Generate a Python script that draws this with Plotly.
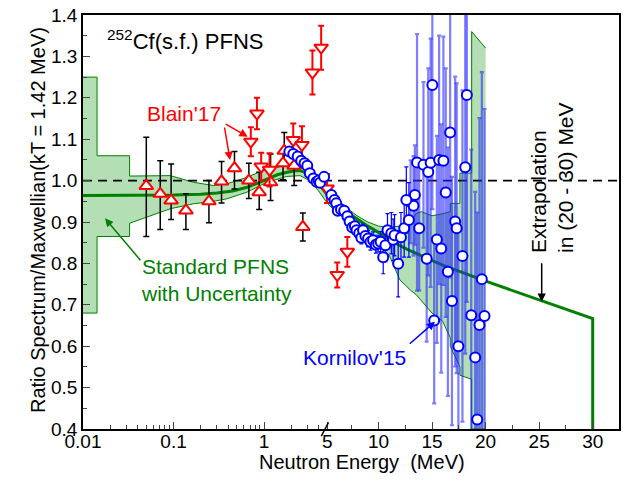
import numpy as np
import plotly.graph_objects as go

# x axis: log from 0.01 to 5 MeV, linear from 5 to 30 MeV
K = 0.1183
U5 = 0.672


def tx(e):
    e = np.asarray(e, dtype=float)
    return np.where(e <= 5, np.log10(e), U5 + (e - 5) * K)


# standard PFNS uncertainty band
band_e = [0.01, 0.0143, 0.0143, 0.0327, 0.0327, 0.05, 0.092, 0.166, 0.277, 0.388, 0.646, 1.07, 1.79,
          2.5, 3.0, 3.5, 4.0, 5.0, 6.0, 7.0, 8.0, 9.0, 10.0, 11.0, 12.0, 13.0, 13.5, 14.0, 15.0, 16.0,
          16.7, 16.7, 17.6, 17.6, 18.7, 18.7, 19.7, 20.0]
band_hi = [1.25, 1.25, 1.06, 1.06, 1.011, 1.011, 1.012, 0.996, 0.988, 0.992, 1.008, 1.028, 1.036,
           1.034, 1.03, 1.02, 1.008, 0.985, 0.955, 0.935, 0.915, 0.9, 0.89, 0.887, 0.89, 0.9, 0.92,
           0.925, 0.915, 0.92, 0.925, 0.945, 0.945, 1.018, 1.018, 1.36, 1.33, 1.32]
band_lo = [0.68, 0.68, 0.865, 0.865, 0.897, 0.912, 0.932, 0.944, 0.95, 0.956, 0.972, 0.996, 1.01,
           1.012, 1.003, 0.99, 0.975, 0.945, 0.925, 0.905, 0.885, 0.865, 0.845, 0.82, 0.76, 0.735,
           0.725, 0.71, 0.68, 0.66, 0.62, 0.6, 0.55, 0.53, 0.52, 0.4, 0.4, 0.4]

# standard PFNS (with extrapolation 20-30 MeV)
std_e = [0.01, 0.05, 0.1, 0.2, 0.3, 0.45, 0.65, 0.85, 1.07, 1.4, 1.79, 2.2, 2.5, 3.0, 3.5, 4.0, 5.0,
         6.0, 7.0, 8.0, 9.0, 10.0, 11.0, 12.0, 13.0, 14.0, 15.0, 16.0, 17.0, 18.0, 19.0, 20.0, 30.0, 30.0]
std_v = [0.964, 0.964, 0.965, 0.967, 0.970, 0.975, 0.984, 0.994, 1.004, 1.014, 1.02, 1.024, 1.024,
         1.018, 1.006, 0.993, 0.965, 0.945, 0.925, 0.907, 0.89, 0.875, 0.858, 0.843, 0.83, 0.818,
         0.807, 0.796, 0.786, 0.776, 0.766, 0.757, 0.667, 0.4]

# Blain'17, upward triangles (black error bars)
bu_e = [0.05, 0.0713, 0.094, 0.137, 0.246, 0.339, 0.471, 0.679, 0.883, 1.18, 1.67, 1.62, 2.15, 2.68]
bu_v = [0.987, 0.968, 0.952, 0.928, 0.95, 0.998, 1.03, 1.0, 0.972, 0.996, 1.072, 1.042, 1.036, 0.888]
bu_ep = [0.118, 0.08, 0.088, 0.04, 0.05, 0.048, 0.04, 0.042, 0.048, 0.068, 0.044, 0.03, 0.036, 0.034]
bu_em = [0.122, 0.086, 0.046, 0.046, 0.052, 0.052, 0.05, 0.043, 0.042, 0.044, 0.03, 0.04, 0.048, 0.034]

# Blain'17, downward triangles (red error bars)
bd_e = [0.714, 0.834, 0.929, 1.15, 2.1, 2.62, 3.42, 4.27, 5.2, 6.15, 7.09]
bd_v = [1.094, 1.162, 1.034, 1.026, 1.098, 1.086, 1.261, 1.321, 0.981, 0.772, 0.828]
bd_err = [0.035, 0.038, 0.033, 0.04, 0.04, 0.045, 0.053, 0.053, 0.035, 0.03, 0.036]

# Kornilov'15 below 13 MeV
k1_e = [1.9, 2.1, 2.35, 2.57, 2.8, 3.0, 3.2, 3.5, 3.8, 4.0, 4.15, 4.6, 5.6, 5.9, 6.06, 6.2, 6.5, 6.8,
        7.1, 7.3, 7.55, 7.8, 7.95, 8.2, 8.4, 8.56, 8.78, 9.03, 9.25, 9.5, 9.75, 9.97, 10.2, 10.44,
        10.65, 10.84, 11.2, 11.37, 11.5, 11.84, 12.1, 12.4, 12.6, 12.84]
k1_v = [1.07, 1.064, 1.058, 1.048, 1.042, 1.036, 1.018, 1.005, 0.997, 1.0, 0.995, 1.009, 0.965, 0.953,
        0.945, 0.927, 0.93, 0.927, 0.914, 0.901, 0.887, 0.89, 0.88, 0.873, 0.862, 0.88, 0.866, 0.86,
        0.852, 0.856, 0.845, 0.848, 0.852, 0.815, 0.844, 0.88, 0.873, 0.857, 0.868, 0.799, 0.863,
        0.885, 0.953, 0.905]
k1_err = [0.008, 0.008, 0.008, 0.008, 0.008, 0.008, 0.008, 0.008, 0.008, 0.008, 0.008, 0.008, 0.01,
          0.01, 0.01, 0.01, 0.01, 0.012, 0.012, 0.012, 0.012, 0.012, 0.015, 0.015, 0.015, 0.015,
          0.015, 0.02, 0.02, 0.02, 0.02, 0.02, 0.025, 0.04, 0.04, 0.04, 0.05, 0.05, 0.05, 0.08, 0.06,
          0.07, 0.08, 0.09]

# Kornilov'15 above 13 MeV
k2_e = [13.0, 13.27, 13.4, 13.6, 13.8, 14.2, 14.5, 14.65, 14.87, 15.03, 15.2, 15.45, 15.66, 15.86,
        16.06, 16.28, 16.48, 16.69, 16.86, 17.16, 17.3, 17.46, 17.84, 18.1, 18.25, 18.66, 19.03,
        19.22, 19.43, 19.65, 19.9]
k2_v = [0.949, 0.939, 0.965, 1.044, 0.885, 1.038, 0.811, 1.021, 1.043, 1.231, 0.662, 0.858, 1.05,
        0.836, 1.048, 0.971, 0.78, 1.116, 0.709, 0.901, 0.885, 0.6, 0.818, 1.032, 1.207, 0.675,
        0.573, 0.423, 0.651, 0.762, 0.673]
k2_err = [0.1, 0.12, 0.12, 0.31, 0.15, 0.2, 0.2, 0.25, 0.3, 0.3, 0.2, 0.25, 0.3, 0.3, 0.3, 0.3, 0.3,
          0.35, 0.3, 0.35, 0.35, 0.3, 0.4, 0.45, 0.5, 0.4, 0.4, 0.5, 0.5, 0.5, 0.5]

x_ticks = [0.01, 0.1, 1, 5, 10, 15, 20, 25, 30]
x_minor = [0.02, 0.03, 0.04, 0.05, 0.06, 0.07, 0.08, 0.09, 0.2, 0.3, 0.4, 0.5, 0.6, 0.7, 0.8, 0.9,
           2, 3, 4, 7.5, 12.5, 17.5, 22.5, 27.5]

GREEN = "#008000"
FONT = "Liberation Sans, Arial, sans-serif"

fig = go.Figure()
fig.add_trace(go.Scatter(x=tx(band_e), y=band_lo, mode="lines",
                         line=dict(color=GREEN, width=1), hoverinfo="skip"))
fig.add_trace(go.Scatter(x=tx(band_e), y=band_hi, mode="lines", fill="tonexty",
                         fillcolor="rgb(180,222,180)", line=dict(color=GREEN, width=1)))
fig.add_trace(go.Scatter(x=[-2, 3.92], y=[1.0, 1.0], mode="lines",
                         line=dict(color="black", width=1.6, dash="9px,6px")))
fig.add_trace(go.Scatter(x=tx(std_e), y=std_v, mode="lines", line=dict(color=GREEN, width=3)))
fig.add_trace(go.Scatter(x=tx(bu_e), y=bu_v, mode="markers",
                         marker=dict(symbol="triangle-up", size=12, color="white",
                                     line=dict(color="red", width=2)),
                         error_y=dict(type="data", array=bu_ep, arrayminus=bu_em, color="black",
                                      thickness=1.5, width=3)))
fig.add_trace(go.Scatter(x=tx(bd_e), y=bd_v, mode="markers",
                         marker=dict(symbol="triangle-down", size=12, color="white",
                                     line=dict(color="red", width=2)),
                         error_y=dict(type="data", array=bd_err, color="red", thickness=2, width=3)))
fig.add_trace(go.Scatter(x=tx(k2_e), y=k2_v, mode="markers",
                         marker=dict(symbol="circle", size=10, color="white",
                                     line=dict(color="blue", width=2)),
                         error_y=dict(type="data", array=k2_err, color="rgba(40,40,255,0.6)",
                                      thickness=2.2, width=2)))
fig.add_trace(go.Scatter(x=tx(k1_e), y=k1_v, mode="markers",
                         marker=dict(symbol="circle", size=10, color="white",
                                     line=dict(color="blue", width=2)),
                         error_y=dict(type="data", array=k1_err, color="blue", thickness=1.2, width=2)))

# plot area in pixels: left 83, right 619, top 15, bottom 429
L, R, T, B = 83, 619, 15, 429
XR = [-2, 3.92]
YR = [0.4, 1.4]


def data(px, py):
    u = XR[0] + (px - L) / (R - L) * (XR[1] - XR[0])
    v = YR[0] + (B - py) / (B - T) * (YR[1] - YR[0])
    return u, v


def paper(px, py):
    return (px - L) / (R - L), (B - py) / (B - T)


anns = []


def text(px, py, s, color, size=21, ref="data", **kw):
    if ref == "data":
        x, y = data(px, py)
        xr, yr = "x", "y"
    else:
        x, y = paper(px, py)
        xr, yr = "paper", "paper"
    anns.append(dict(x=x, y=y, xref=xr, yref=yr, text=s, showarrow=False,
                     font=dict(color=color, size=size, family=FONT), **kw))


def arrow(head, tail, color):
    x, y = data(*head)
    anns.append(dict(x=x, y=y, xref="x", yref="y", text="", showarrow=True,
                     ax=tail[0] - head[0], ay=tail[1] - head[1], arrowcolor=color,
                     arrowhead=2, arrowsize=1.1, arrowwidth=1.5))


text(105, 40, "<sup>252</sup>Cf(s.f.) PFNS", "black", size=22, xanchor="left")
text(184, 113, "Blain'17", "red", size=21)
text(216, 280, "Standard PFNS<br>with Uncertainty", GREEN, size=21, align="left")
text(354, 357, "Kornilov'15", "blue", size=21)
text(552, 178, "Extrapolation<br>in (20 - 30) MeV", "black", size=21, textangle=-90, align="left")
text(362, 475, "Neutron Energy \u00a0(MeV)", "black", size=20, ref="paper")
text(25, 220, "Ratio Spectrum/Maxwellian(kT = 1.42 MeV)", "black", size=20, ref="paper",
     textangle=-90)
arrow((247.7, 136.7), (224.3, 123.3), "red")
arrow((230, 160), (224.3, 126), "red")
arrow((105, 218.3), (141.7, 261.7), GREEN)
arrow((435, 321.7), (408.3, 345), "blue")
arrow((541.7, 301.7), (541.7, 261.7), "black")

fig.update_layout(
    width=623, height=485,
    margin=dict(l=L, r=623 - R, t=T, b=485 - B, autoexpand=False),
    paper_bgcolor="white", plot_bgcolor="white",
    showlegend=False,
    font=dict(family=FONT, size=20, color="black"),
    annotations=anns,
    shapes=[dict(type="line", xref="x", yref="paper", x0=U5 - 0.04, x1=U5 + 0.04, y0=-0.017, y1=0.016,
                 line=dict(color="black", width=1.5))],
    xaxis=dict(range=XR, tickvals=tx(x_ticks), ticktext=[str(v) for v in x_ticks],
               ticks="inside", ticklen=7, tickwidth=1.3, showgrid=False, zeroline=False,
               showline=True, linecolor="black", linewidth=1.5, mirror=True, automargin=False,
               ticklabelstandoff=-6,
               minor=dict(tickvals=tx(x_minor), ticks="inside", ticklen=4, tickwidth=1.2),
               tickfont=dict(size=19)),
    yaxis=dict(range=YR, tickvals=[0.4, 0.5, 0.6, 0.7, 0.8, 0.9, 1.0, 1.1, 1.2, 1.3, 1.4],
               ticktext=["0.4", "0.5", "0.6", "0.7", "0.8", "0.9", "1.0", "1.1", "1.2", "1.3", "1.4"],
               ticks="inside", ticklen=7, tickwidth=1.3, showgrid=False, zeroline=False,
               showline=True, linecolor="black", linewidth=1.5, mirror=True, automargin=False,
               minor=dict(dtick=0.05, ticks="inside", ticklen=4, tickwidth=1.2),
               tickfont=dict(size=19)),
    xaxis2=dict(overlaying="x", side="top", range=XR, automargin=False,
                tickvals=[-1.5 + 0.5 * i for i in range(11)], ticks="inside", ticklen=5,
                tickwidth=1.2, showticklabels=False, showgrid=False, zeroline=False),
    yaxis2=dict(overlaying="y", side="right", range=YR, automargin=False,
                tickvals=[0.4597 + 0.0589 * i for i in range(16)], ticks="inside", ticklen=5,
                tickwidth=1.2, showticklabels=False, showgrid=False, zeroline=False),
)

# page body has a default 8px margin; remove it so the figure sits at the page corner
fig.write_html("out.html", config={"displayModeBar": False},
               post_script="document.body.style.margin='0px';")
